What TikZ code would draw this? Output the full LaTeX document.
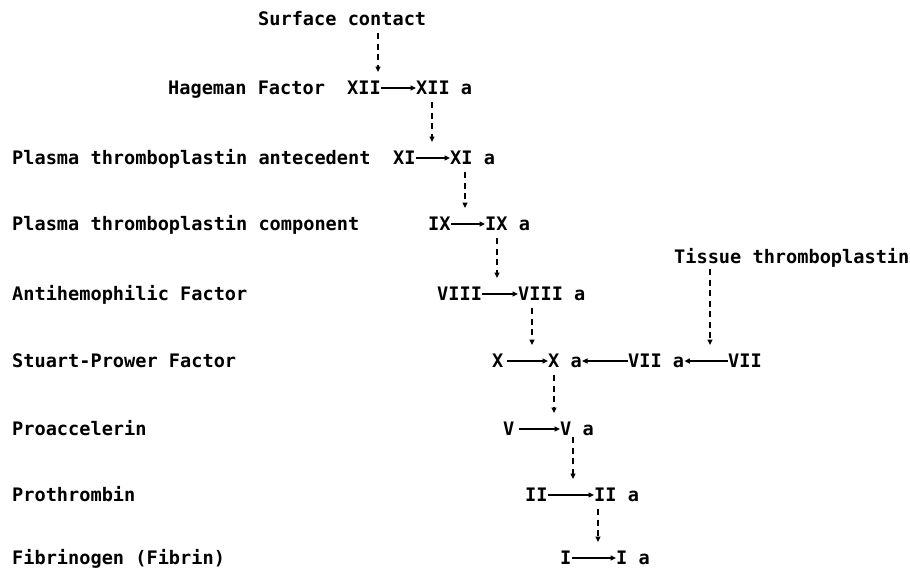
\documentclass[tikz,border=0pt]{standalone}
\usepackage{fontspec}
\setmainfont{DejaVu Sans Mono}
\usetikzlibrary{arrows.meta,calc}
\begin{document}
\begin{tikzpicture}[x=1pt,y=-1pt,
  txt/.style={anchor=west, inner sep=0pt, text height=13.4pt, text depth=0pt,
    font=\fontsize{18.6}{22}\selectfont\bfseries},
  conv/.style={line width=1.4pt, -{Triangle[length=5.5pt,width=5pt]}},
  cat/.style={line width=1.4pt, dash pattern=on 6pt off 4.5pt,
    -{Triangle[length=5.5pt,width=5pt]}}]
\useasboundingbox (0,0) rectangle (910,573);

% triggers
\node[txt] (surf) at (258,19) {Surface contact};
\node[txt] (tissue) at (674,257) {Tissue thromboplastin};

% factor names and zymogen -> active form
\node[txt] (lab1) at (168,88) {Hageman Factor};
\node[txt] (xii) at (347,88) {XII};
\node[txt] (xiia) at (416,88) {XII a};
\node[txt] (lab2) at (12,158) {Plasma thromboplastin antecedent};
\node[txt] (xi) at (393,158) {XI};
\node[txt] (xia) at (450,158) {XI a};
\node[txt] (lab3) at (12,224) {Plasma thromboplastin component};
\node[txt] (ix) at (428,224) {IX};
\node[txt] (ixa) at (485,224) {IX a};
\node[txt] (lab4) at (12,294) {Antihemophilic Factor};
\node[txt] (viii) at (437,294) {VIII};
\node[txt] (viiia) at (518,294) {VIII a};
\node[txt] (lab5) at (12,361) {Stuart-Prower Factor};
\node[txt] (x) at (492,361) {X};
\node[txt] (xa) at (548,361) {X a};
\node[txt] (viia) at (628,361) {VII a};
\node[txt] (vii) at (728,361) {VII};
\node[txt] (lab6) at (12,429) {Proaccelerin};
\node[txt] (v) at (503,429) {V};
\node[txt] (va) at (560,429) {V a};
\node[txt] (lab7) at (12,495) {Prothrombin};
\node[txt] (ii) at (525,495) {II};
\node[txt] (iia) at (594,495) {II a};
\node[txt] (lab8) at (12,558) {Fibrinogen (Fibrin)};
\node[txt] (i) at (560,558) {I};
\node[txt] (ia) at (616,558) {I a};

% conversions
\draw[conv] (xii) -- (xiia);
\draw[conv] (xi) -- (xia);
\draw[conv] (ix) -- (ixa);
\draw[conv] (viii) -- (viiia);
\draw[conv, shorten <=3pt] (x) -- (xa);
\draw[conv] (viia) -- (xa);
\draw[conv] (vii) -- (viia);
\draw[conv, shorten <=4pt] (v) -- (va);
\draw[conv] (ii) -- (iia);
\draw[conv] (i) -- (ia);

% activations
\draw[cat] ($(surf.west)+(120,14)$) -- ($(surf.west |- xii.west)+(120,-16)$);
\draw[cat] ($(xiia.west)+(16,14)$) -- ($(xiia.west |- xi.west)+(16,-16)$);
\draw[cat] ($(xia.west)+(15,14)$) -- ($(xia.west |- ix.west)+(15,-16)$);
\draw[cat] ($(ixa.west)+(12,14)$) -- ($(ixa.west |- viii.west)+(12,-16)$);
\draw[cat] ($(viiia.west)+(14,14)$) -- ($(viiia.west |- x.west)+(14,-16)$);
\draw[cat] ($(tissue.west)+(36,12)$) -- ($(tissue.west |- vii.west)+(36,-16)$);
\draw[cat] ($(xa.west)+(6,14)$) -- ($(xa.west |- v.west)+(6,-16)$);
\draw[cat] ($(va.west)+(13,8)$) -- ($(va.west |- ii.west)+(13,-16)$);
\draw[cat] ($(iia.west)+(4,14)$) -- ($(iia.west |- i.west)+(4,-16)$);
\end{tikzpicture}
\end{document}
